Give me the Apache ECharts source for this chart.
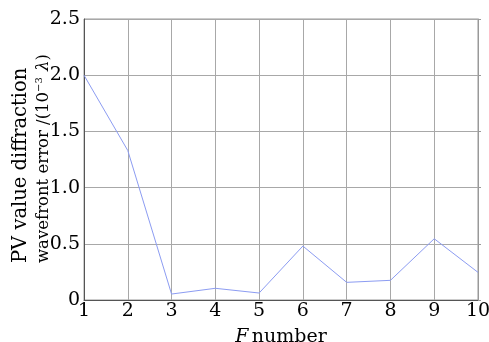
<!DOCTYPE html>
<html><head><meta charset="utf-8">
<script src="https://cdn.jsdelivr.net/npm/echarts@6/dist/echarts.min.js"></script>
<style>html,body{margin:0;padding:0;background:#fff}#c{width:489px;height:342px}</style>
</head><body><div id="c"></div>
<script>
const fNumbers = [1, 2, 3, 4, 5, 6, 7, 8, 9, 10];
const pvError = [2.0, 1.33, 0.053, 0.104, 0.062, 0.48, 0.157, 0.175, 0.545, 0.246];
const yTicks = [0, 0.5, 1.0, 1.5, 2.0, 2.5];

const font = 'DejaVu Serif';
const chart = echarts.init(document.getElementById('c'), null, {renderer: 'canvas'});
chart.setOption({
  animation: false,
  backgroundColor: '#fff',
  grid: {left: 84, right: 11, top: 19, bottom: 42, show: true, borderColor: '#999', borderWidth: 1,
    containLabel: false, outerBoundsMode: 'none'},
  graphic: [{
    type: 'text', x: 32, y: 263, rotation: Math.PI / 2,
    style: {
      text: '{a|PV value diffraction}\n{b|wavefront error /(10}{s|−3}{l| λ}{b|)}',
      align: 'left', verticalAlign: 'middle',
      rich: {
        a: {fontFamily: font, fontSize: 19.5, fill: '#000', lineHeight: 23},
        b: {fontFamily: font, fontSize: 16.5, fill: '#000', lineHeight: 23},
        l: {fontFamily: font, fontSize: 16.5, fontStyle: 'italic', fill: '#000', lineHeight: 23},
        s: {fontFamily: font, fontSize: 10, fill: '#000', padding: [0, 1, 8, 0]}
      }
    }
  }],
  xAxis: {
    type: 'value', min: 1, max: 10, interval: 1,
    name: '{i|F} {n|number}', nameLocation: 'middle', nameGap: 28, nameMoveOverlap: false,
    nameTextStyle: {verticalAlign: 'top', rich: {
      i: {fontFamily: font, fontSize: 19, fontStyle: 'italic', color: '#000'},
      n: {fontFamily: font, fontSize: 19, color: '#000'}
    }},
    axisLine: {show: true, lineStyle: {color: '#555', width: 1}},
    axisTick: {show: false},
    axisLabel: {fontFamily: font, fontSize: 19, color: '#000', margin: 2},
    splitLine: {show: true, lineStyle: {color: '#a8a8a8', width: 1}}
  },
  yAxis: [{
    type: 'value', min: 0, max: 2.5, interval: 0.5,
    axisLine: {show: true, lineStyle: {color: '#555', width: 1}},
    axisTick: {show: false},
    axisLabel: {fontFamily: font, fontSize: 19, color: '#000', margin: 4,
      formatter: v => yTicks.indexOf(v) === 0 ? '0' : v.toFixed(1)},
    splitLine: {show: true, lineStyle: {color: '#a8a8a8', width: 1}}
  }, {
    type: 'value', min: 0, max: 2.5, interval: 0.5, position: 'right',
    axisLine: {show: true, lineStyle: {color: '#999'}},
    axisTick: {show: true, length: 3, inside: false, lineStyle: {color: '#999'}},
    axisLabel: {show: false}, splitLine: {show: false}
  }],
  series: [{
    type: 'line',
    data: fNumbers.map((f, i) => [f, pvError[i]]),
    showSymbol: false,
    lineStyle: {color: '#8c9cf2', width: 1}
  }]
});
</script></body></html>
